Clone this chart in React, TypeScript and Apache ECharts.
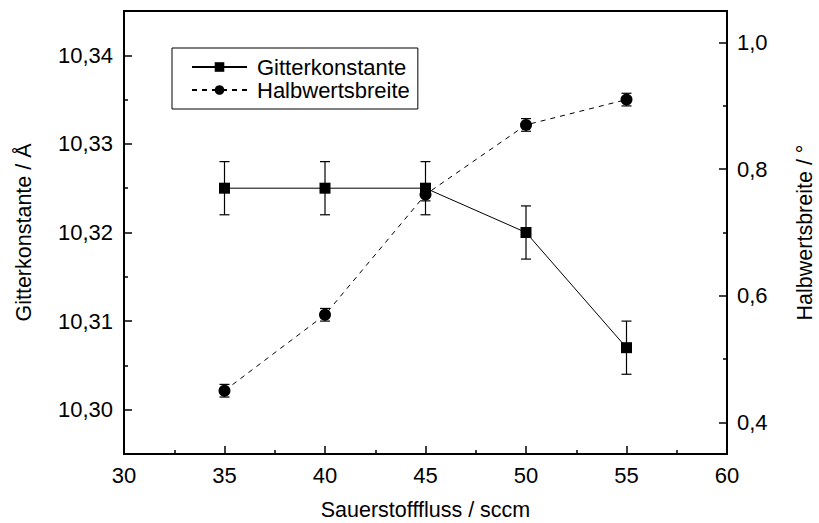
import React, { useEffect, useRef } from "react";
import * as echarts from "echarts";

const flows = [35, 40, 45, 50, 55];
const gitterkonstante = [10.325, 10.325, 10.325, 10.32, 10.307];
const gitterFehler = [0.003, 0.003, 0.003, 0.003, 0.003];
const halbwertsbreite = [0.45, 0.57, 0.76, 0.87, 0.91];
const halbFehler = [0.01, 0.01, 0.01, 0.01, 0.01];

const leftMajor = [10.3, 10.31, 10.32, 10.33, 10.34];
const leftMinor = [10.305, 10.315, 10.325, 10.335];
const rightMajor = [0.4, 0.6, 0.8, 1.0];
const rightMinor = [0.5, 0.7, 0.9];

const FONT = "'Liberation Sans', Arial, sans-serif";

export default function App() {
  const ref = useRef<HTMLDivElement>(null);
  useEffect(() => {
    if (!ref.current) return;
    const chart = echarts.init(ref.current, undefined, { renderer: "svg" });
    const comma = (d: number) => (v: number) => v.toFixed(d).replace(".", ",");
    const errItem = (params: any, api: any) => {
      const x = api.value(0);
      const y = api.value(1);
      const e = api.value(2);
      const t = api.coord([x, y + e]);
      const b = api.coord([x, y - e]);
      const w = 5;
      const st = { stroke: "#000", lineWidth: 1.2 };
      return {
        type: "group",
        children: [
          { type: "line", shape: { x1: t[0], y1: t[1], x2: b[0], y2: b[1] }, style: st },
          { type: "line", shape: { x1: t[0] - w, y1: t[1], x2: t[0] + w, y2: t[1] }, style: st },
          { type: "line", shape: { x1: b[0] - w, y1: b[1], x2: b[0] + w, y2: b[1] }, style: st },
        ],
      };
    };
    const axisLine = { show: true, lineStyle: { color: "#000", width: 2 } };
    const labelStyle = { color: "#000", fontSize: 22, fontFamily: FONT };
    const nameStyle = { color: "#000", fontSize: 21.5, fontFamily: FONT };
    chart.setOption({
      animation: false,
      textStyle: { fontFamily: FONT },
      grid: {
        left: 124,
        right: 92,
        top: 11,
        bottom: 69,
        containLabel: false,
        outerBoundsMode: "none",
        show: true,
        borderColor: "#000",
        borderWidth: 2,
        backgroundColor: "transparent",
      },
      legend: {
        left: 172,
        top: 48,
        orient: "vertical",
        data: ["Gitterkonstante", "Halbwertsbreite"],
        itemWidth: 55,
        itemHeight: 12,
        itemGap: 1,
        padding: [8, 8, 8, 19],
        borderColor: "#000",
        borderWidth: 1,
        textStyle: { color: "#000", fontSize: 22, fontFamily: FONT, padding: [0, 0, 0, 5] },
      },
      xAxis: {
        type: "value",
        min: 30,
        max: 60,
        interval: 5,
        axisLine,
        axisTick: { show: true, inside: true, length: 8, lineStyle: { color: "#000", width: 1.5 } },
        minorTick: { show: true, splitNumber: 2, length: 4, lineStyle: { color: "#000", width: 1.5 } },
        splitLine: { show: false },
        axisLabel: { ...labelStyle, margin: 10 },
        name: "Sauerstofffluss / sccm",
        nameLocation: "middle",
        nameGap: 45,
        nameTextStyle: nameStyle,
      },
      yAxis: [
        {
          type: "value",
          position: "left",
          min: 10.295,
          max: 10.345,
          axisLine,
          axisTick: {
            show: true,
            inside: true,
            length: 8,
            customValues: leftMajor,
            lineStyle: { color: "#000", width: 1.5 },
          },
          splitLine: { show: false },
          axisLabel: { ...labelStyle, margin: 11, customValues: leftMajor, formatter: comma(2) },
          name: "Gitterkonstante / Å",
          nameLocation: "middle",
          nameGap: 89,
          nameRotate: 90,
          nameTextStyle: nameStyle,
        },
        {
          type: "value",
          position: "right",
          min: 0.35,
          max: 1.05,
          axisLine,
          axisTick: {
            show: true,
            inside: true,
            length: 8,
            customValues: rightMajor,
            lineStyle: { color: "#000", width: 1.5 },
          },
          splitLine: { show: false },
          axisLabel: { ...labelStyle, margin: 10, customValues: rightMajor, formatter: comma(1) },
          name: "Halbwertsbreite / °",
          nameLocation: "middle",
          nameGap: 67,
          nameRotate: 90,
          nameTextStyle: nameStyle,
        },
        {
          type: "value",
          position: "left",
          min: 10.295,
          max: 10.345,
          axisLine: { show: false },
          axisTick: {
            show: true,
            inside: true,
            length: 4,
            customValues: leftMinor,
            lineStyle: { color: "#000", width: 1.5 },
          },
          splitLine: { show: false },
          axisLabel: { show: false },
        },
        {
          type: "value",
          position: "right",
          min: 0.35,
          max: 1.05,
          axisLine: { show: false },
          axisTick: {
            show: true,
            inside: true,
            length: 4,
            customValues: rightMinor,
            lineStyle: { color: "#000", width: 1.5 },
          },
          splitLine: { show: false },
          axisLabel: { show: false },
        },
      ],
      series: [
        {
          name: "Halbwertsbreite_err",
          type: "custom",
          yAxisIndex: 1,
          z: 1,
          renderItem: errItem,
          encode: { x: 0, y: 1 },
          data: flows.map((x, i) => [x, halbwertsbreite[i], halbFehler[i]]),
        },
        {
          name: "Halbwertsbreite",
          type: "line",
          yAxisIndex: 1,
          z: 2,
          symbol: "circle",
          symbolSize: 12,
          itemStyle: { color: "#000" },
          lineStyle: { color: "#000", width: 1, type: [5, 5] },
          data: flows.map((x, i) => [x, halbwertsbreite[i]]),
        },
        {
          name: "Gitterkonstante_err",
          type: "custom",
          yAxisIndex: 0,
          z: 3,
          renderItem: errItem,
          encode: { x: 0, y: 1 },
          data: flows.map((x, i) => [x, gitterkonstante[i], gitterFehler[i]]),
        },
        {
          name: "Gitterkonstante",
          type: "line",
          yAxisIndex: 0,
          z: 4,
          symbol: "rect",
          symbolSize: 11,
          itemStyle: { color: "#000" },
          lineStyle: { color: "#000", width: 1 },
          data: flows.map((x, i) => [x, gitterkonstante[i]]),
        },
      ],
    });
    return () => chart.dispose();
  }, []);
  return <div ref={ref} style={{ width: 819, height: 523, position: "absolute", left: 0, top: 0 }} />;
}
